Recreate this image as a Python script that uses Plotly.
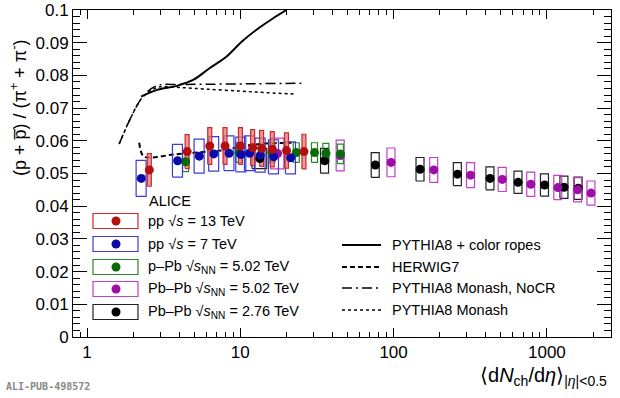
import plotly.graph_objects as go
import numpy as np

# ---------------- data ----------------
pp13_x = [2.55, 4.50, 6.32, 7.95, 10.02, 12.04, 13.77, 16.17, 20.02, 26.02]
pp13_y = [0.0511, 0.0567, 0.0584, 0.0584, 0.0584, 0.0579, 0.0577, 0.0574, 0.0570, 0.0567]
pp13_sys = [0.0050, 0.0052, 0.0056, 0.0056, 0.0056, 0.0055, 0.0055, 0.0054, 0.0054, 0.0053]

pp7_x = [2.26, 3.90, 5.40, 6.72, 8.45, 10.1, 11.5, 13.5, 16.5, 21.3]
pp7_y = [0.0485, 0.0539, 0.0553, 0.0560, 0.0562, 0.0558, 0.0562, 0.0556, 0.0551, 0.0548]
pp7_sys = [0.0055, 0.0050, 0.0052, 0.0053, 0.0053, 0.0053, 0.0053, 0.0052, 0.0052, 0.0049]

ppb_x = [4.4, 9.8, 16.1, 23.2, 30.5, 36.2, 45.0]
ppb_y = [0.0536, 0.0564, 0.0565, 0.0564, 0.0564, 0.0562, 0.0560]
ppb_sys = [0.0030, 0.0030, 0.0030, 0.0030, 0.0030, 0.0030, 0.0030]

pbpb502_x = [17.5, 44.9, 96.3, 183, 318, 512, 786, 1180, 1587, 1942]
pbpb502_y = [0.0561, 0.0555, 0.0534, 0.0511, 0.0495, 0.0482, 0.0467, 0.0457, 0.0450, 0.0440]
pbpb502_sys = [0.0047, 0.0047, 0.0044, 0.0038, 0.0038, 0.0037, 0.0037, 0.0037, 0.0037, 0.0037]
pbpb502_xrel = [0.10, 0.06, 0.06, 0.06, 0.06, 0.06, 0.06, 0.06, 0.06, 0.06]

pbpb276_x = [13.4, 35.5, 76, 149, 261, 426, 649, 966, 1294, 1601]
pbpb276_y = [0.0546, 0.0539, 0.0526, 0.0513, 0.0498, 0.0485, 0.0473, 0.0465, 0.0458, 0.0455]
pbpb276_sys = [0.0031, 0.0038, 0.0038, 0.0036, 0.0035, 0.0035, 0.0034, 0.0034, 0.0034, 0.0034]
pbpb276_xrel = [0.11, 0.06, 0.06, 0.06, 0.06, 0.06, 0.06, 0.06, 0.06, 0.06]

ropes_x = [2.25, 2.84, 3.84, 4.92, 6.3, 8.1, 10.2, 12.7, 16.3, 20.0]
ropes_y = [0.0735, 0.0755, 0.0768, 0.0786, 0.0822, 0.0857, 0.0903, 0.0939, 0.0974, 0.1000]

herwig_x = [2.19, 2.33, 2.63, 3.65, 5.18, 8.5, 9.8, 13.4, 14.8, 21.6]
herwig_y = [0.0594, 0.0553, 0.0549, 0.0558, 0.0564, 0.0574, 0.0582, 0.0590, 0.0592, 0.0594]

nocr_x = [1.62, 1.90, 2.27, 2.64, 2.99, 4.0, 6.0, 10.0, 15.0, 25.0]
nocr_y = [0.0590, 0.0664, 0.0730, 0.0760, 0.0771, 0.0772, 0.0773, 0.0774, 0.0775, 0.0776]

monash_x = [1.62, 1.90, 2.27, 2.64, 3.0, 4.03, 6.0, 10.0, 15.0, 23.2]
monash_y = [0.0590, 0.0664, 0.0730, 0.0755, 0.0765, 0.0763, 0.0758, 0.0752, 0.0747, 0.0743]

x_ticks = [1, 10, 100, 1000]

# ---------------- geometry ----------------
W, H = 620, 398
L, R, T, B = 73, 9, 10, 61
PW, PH = W - L - R, H - T - B

def px(xp):
    return (xp - L) / PW

def py(yp):
    return (H - B - yp) / PH

FONT = "Liberation Sans, Arial, Helvetica, sans-serif"

fig = go.Figure()

def boxes(xs, ys, sys, rel, line_col, fill_col=None):
    bx, by = [], []
    for i, (x, y, s) in enumerate(zip(xs, ys, sys)):
        r = rel[i] if isinstance(rel, list) else rel
        x0, x1 = x * (1 - r), x * (1 + r)
        bx += [x0, x1, x1, x0, x0, None]
        by += [y - s, y - s, y + s, y + s, y - s, None]
    fig.add_trace(go.Scatter(
        x=bx, y=by, mode="lines",
        line=dict(color=line_col, width=1.2),
        fill="toself" if fill_col else None,
        fillcolor=fill_col,
        hoverinfo="skip", showlegend=False))

def points(xs, ys, col):
    fig.add_trace(go.Scatter(x=xs, y=ys, mode="markers",
                             marker=dict(color=col, size=9, line=dict(width=0)),
                             showlegend=False))

RED, BLUE, GREEN, MAG, BLK = "#b50f0f", "#0a0aa8", "#0b6b0b", "#9b0fa5", "#000000"

# models
fig.add_trace(go.Scatter(x=monash_x, y=monash_y, mode="lines",
                         line=dict(color="black", width=1.5, dash="dot", shape="spline"), showlegend=False))
fig.add_trace(go.Scatter(x=nocr_x, y=nocr_y, mode="lines",
                         line=dict(color="black", width=1.5, dash="10px,4px,2px,4px", shape="spline"), showlegend=False))
fig.add_trace(go.Scatter(x=ropes_x, y=ropes_y, mode="lines",
                         line=dict(color="black", width=2, shape="spline"), showlegend=False))
fig.add_trace(go.Scatter(x=herwig_x, y=herwig_y, mode="lines",
                         line=dict(color="black", width=2, dash="5px,3px", shape="spline"), showlegend=False))

# systematic boxes
boxes(pbpb276_x, pbpb276_y, pbpb276_sys, pbpb276_xrel, "#222222")
boxes(pbpb502_x, pbpb502_y, pbpb502_sys, pbpb502_xrel, "#c040c8")
boxes(ppb_x, ppb_y, ppb_sys, 0.045, "#2a882a")
boxes(pp7_x, pp7_y, pp7_sys, 0.075, "#3b3bd8")
boxes(pp13_x, pp13_y, pp13_sys, 0.03, "#cc2a2a", "rgba(225,120,120,0.75)")

points(pbpb276_x, pbpb276_y, BLK)
points(pbpb502_x, pbpb502_y, MAG)
points(ppb_x, ppb_y, GREEN)
points(pp7_x, pp7_y, BLUE)
points(pp13_x, pp13_y, RED)

# ---------------- legend (drawn manually) ----------------
shapes = []
ann = []
leg_rows = [
    (221, "#cc2a2a", RED, "pp √<i>s</i> = 13 TeV"),
    (244, "#3b3bd8", BLUE, "pp √<i>s</i> = 7 TeV"),
    (267, "#2a882a", GREEN, "p–Pb √<i>s</i><sub>NN</sub> = 5.02 TeV"),
    (289, "#c040c8", MAG, "Pb–Pb √<i>s</i><sub>NN</sub> = 5.02 TeV"),
    (312, "#222222", BLK, "Pb–Pb √<i>s</i><sub>NN</sub> = 2.76 TeV"),
]
for yc, bcol, mcol, txt in leg_rows:
    shapes.append(dict(type="rect", xref="paper", yref="paper",
                       x0=px(93), x1=px(138), y0=py(yc - 7.5), y1=py(yc + 7.5),
                       line=dict(color=bcol, width=1.2), fillcolor="white"))
    shapes.append(dict(type="circle", xref="paper", yref="paper",
                       x0=px(111.5), x1=px(120.5), y0=py(yc - 4.5), y1=py(yc + 4.5),
                       line=dict(width=0), fillcolor=mcol))
    ann.append(dict(x=px(146), y=py(yc), xref="paper", yref="paper", text=txt,
                    showarrow=False, xanchor="left", yanchor="middle",
                    font=dict(family=FONT, size=14.5, color="black")))

ann.append(dict(x=px(147), y=py(201), xref="paper", yref="paper", text="ALICE",
                showarrow=False, xanchor="left", yanchor="middle",
                font=dict(family=FONT, size=14.5, color="black")))

model_rows = [
    (245, "solid", 2, "PYTHIA8 + color ropes"),
    (267, "5px,3px", 2, "HERWIG7"),
    (288, "10px,4px,2px,4px", 1.5, "PYTHIA8 Monash, NoCR"),
    (310, "dot", 1.5, "PYTHIA8 Monash"),
]
for yc, dash, wdt, txt in model_rows:
    shapes.append(dict(type="line", xref="paper", yref="paper",
                       x0=px(342), x1=px(381), y0=py(yc), y1=py(yc),
                       line=dict(color="black", width=wdt, dash=dash)))
    ann.append(dict(x=px(390), y=py(yc), xref="paper", yref="paper", text=txt,
                    showarrow=False, xanchor="left", yanchor="middle",
                    font=dict(family=FONT, size=14.5, color="black")))

# axis titles
ann.append(dict(x=px(18), y=py(108), xref="paper", yref="paper",
                text="(p + p\u0305) / (π<sup>+</sup> + π<sup>-</sup>)", textangle=-90,
                showarrow=False, xanchor="center", yanchor="middle",
                font=dict(family=FONT, size=18, color="black")))
ann.append(dict(x=px(478), y=py(376), xref="paper", yref="paper",
                text="⟨d<i>N</i><sub>ch</sub>/d<i>η</i>⟩<sub>|<i>η</i>|<0.5</sub>",
                showarrow=False, xanchor="left", yanchor="middle",
                font=dict(family=FONT, size=20, color="black")))
ann.append(dict(x=px(4), y=py(386), xref="paper", yref="paper",
                text="<b>ALI-PUB-498572</b>",
                showarrow=False, xanchor="left", yanchor="middle",
                font=dict(family="DejaVu Sans Mono, monospace", size=10, color="#888888")))

fig.update_layout(
    width=W, height=H,
    margin=dict(l=L, r=R, t=T, b=B, pad=0, autoexpand=False),
    paper_bgcolor="white", plot_bgcolor="white",
    showlegend=False,
    shapes=shapes, annotations=ann,
    xaxis=dict(type="log", range=[np.log10(0.81), np.log10(2620)], automargin=False,
               tickvals=x_ticks, ticktext=[str(v) for v in x_ticks],
               ticks="inside", ticklen=9, tickwidth=1, tickcolor="black",
               showline=True, linecolor="black", linewidth=1, mirror="allticks",
               showgrid=False, zeroline=False,
               minor=dict(ticks="inside", ticklen=5, tickcolor="black", dtick="D1", showgrid=False),
               tickfont=dict(family=FONT, size=17, color="black")),
    yaxis=dict(range=[0, 0.1], dtick=0.01, tick0=0, automargin=False,
               ticks="inside", ticklen=14, tickwidth=1, tickcolor="black",
               showline=True, linecolor="black", linewidth=1, mirror="allticks",
               showgrid=False, zeroline=False,
               minor=dict(ticks="inside", ticklen=7, tickcolor="black", dtick=0.002, showgrid=False),
               tickfont=dict(family=FONT, size=17, color="black")),
)

fig.write_html("out.html", config={"displayModeBar": False},
               post_script="document.body.style.margin='0';document.body.style.overflow='hidden';")
